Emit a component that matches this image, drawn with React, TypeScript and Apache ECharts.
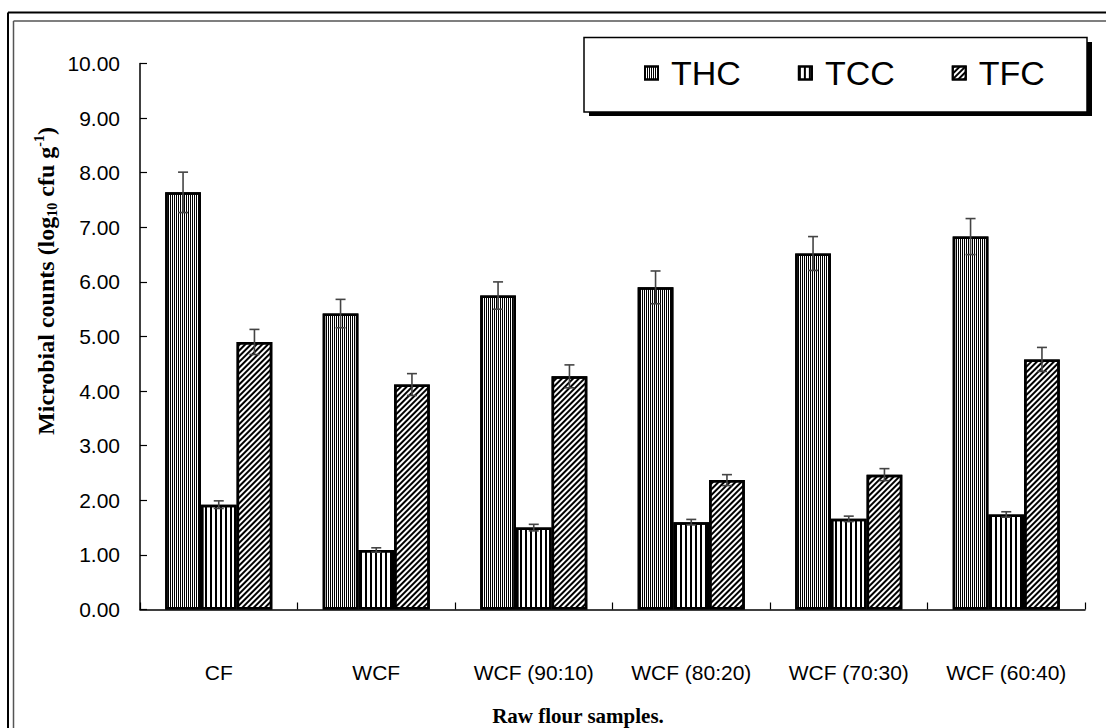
import React, { useEffect, useRef } from "react";
import * as echarts from "echarts";

// Raw flour samples on the category axis
const categories = ["CF", "WCF", "WCF (90:10)", "WCF (80:20)", "WCF (70:30)", "WCF (60:40)"];

// Microbial counts, log10 cfu/g, with standard deviations
const thc = [7.64, 5.42, 5.75, 5.9, 6.52, 6.83];
const thcErr = [0.37, 0.26, 0.25, 0.3, 0.31, 0.33];
const tcc = [1.92, 1.09, 1.5, 1.6, 1.66, 1.74];
const tccErr = [0.07, 0.04, 0.06, 0.05, 0.05, 0.05];
const tfc = [4.9, 4.12, 4.27, 2.37, 2.47, 4.58];
const tfcErr = [0.23, 0.2, 0.21, 0.1, 0.11, 0.22];

const seriesNames = ["THC", "TCC", "TFC"];
const yTicks = [0, 1, 2, 3, 4, 5, 6, 7, 8, 9, 10];

const CATEGORY_GAP = 0.32;
const SANS = "'Liberation Sans', Arial, sans-serif";
const SERIF = "'Liberation Serif', 'Times New Roman', serif";

const decals = [
  // dense fine vertical lines
  { symbol: "rect", symbolSize: 1, color: "#000", dashArrayX: [1, 1], dashArrayY: [4, 0] },
  // wider vertical stripes
  { symbol: "rect", symbolSize: 1, color: "#000", dashArrayX: [2, 3], dashArrayY: [4, 0] },
  // diagonal hatching
  { symbol: "rect", symbolSize: 1, color: "#000", dashArrayX: [2, 2], dashArrayY: [4, 0], rotation: Math.PI / 4 },
];

export default function App() {
  const ref = useRef<HTMLDivElement>(null);

  useEffect(() => {
    const chart = echarts.init(ref.current!, null, { renderer: "svg" });

    const barSeries = (name: string, values: number[], idx: number) => ({
      type: "bar",
      name,
      data: values,
      barGap: "0%",
      barCategoryGap: `${CATEGORY_GAP * 100}%`,
      z: 2,
      itemStyle: {
        color: "#fff",
        borderColor: "#000",
        borderWidth: 2.5,
        decal: decals[idx],
      },
    });

    const errorSeries = (name: string, values: number[], errs: number[], idx: number) => ({
      type: "custom",
      name: name + " SD",
      silent: true,
      z: 5,
      data: values.map((v, i) => [i, v, errs[i]]),
      encode: { x: 0, y: 1 },
      renderItem: (_params: any, api: any) => {
        const i = api.value(0);
        const v = api.value(1);
        const e = api.value(2);
        const band = api.size([1, 0])[0];
        const bw = (band * (1 - CATEGORY_GAP)) / 3;
        const off = (idx - 1) * bw;
        const hi = api.coord([i, v + e]);
        const lo = api.coord([i, v - e]);
        const x = hi[0] + off;
        const cap = 5;
        const style = { stroke: "#444", lineWidth: 1.6 };
        return {
          type: "group",
          children: [
            { type: "line", shape: { x1: x, y1: hi[1], x2: x, y2: lo[1] }, style },
            { type: "line", shape: { x1: x - cap, y1: hi[1], x2: x + cap, y2: hi[1] }, style },
            { type: "line", shape: { x1: x - cap, y1: lo[1], x2: x + cap, y2: lo[1] }, style },
          ],
        };
      },
    });

    chart.setOption({
      animation: false,
      backgroundColor: "#fff",
      grid: { left: 140, right: 21, top: 63.5, bottom: 118.5, containLabel: false },
      legend: {
        data: seriesNames,
        left: 644,
        top: 56,
        padding: 0,
        icon: "rect",
        itemWidth: 13,
        itemHeight: 13,
        itemGap: 57,
        selectedMode: false,
        textStyle: { fontFamily: SANS, fontSize: 34, color: "#000", padding: [0, 0, 0, 8] },
      },
      xAxis: {
        type: "category",
        data: categories,
        axisLine: { lineStyle: { color: "#000", width: 1.5 } },
        axisTick: { show: true, inside: true, length: 7, lineStyle: { color: "#000", width: 1.2 } },
        axisLabel: { fontFamily: SANS, fontSize: 21, color: "#000", margin: 52 },
        splitLine: { show: false },
      },
      yAxis: {
        type: "value",
        min: yTicks[0],
        max: yTicks[yTicks.length - 1],
        interval: 1,
        axisLine: { show: true, lineStyle: { color: "#000", width: 1.5 } },
        axisTick: { show: true, inside: true, length: 7, lineStyle: { color: "#000", width: 1.2 } },
        axisLabel: {
          fontFamily: SANS,
          fontSize: 21,
          color: "#000",
          margin: 20,
          formatter: (v: number) => v.toFixed(2),
        },
        splitLine: { show: false },
      },
      graphic: [
        // double frame
        { type: "line", z: 0, shape: { x1: 8, y1: 12.5, x2: 1106, y2: 12.5 }, style: { stroke: "#000", lineWidth: 2 } },
        { type: "line", z: 0, shape: { x1: 8, y1: 12.5, x2: 8, y2: 728 }, style: { stroke: "#000", lineWidth: 2 } },
        { type: "line", z: 0, shape: { x1: 13.5, y1: 21, x2: 1106, y2: 21 }, style: { stroke: "#555", lineWidth: 1.5 } },
        { type: "line", z: 0, shape: { x1: 13.5, y1: 21, x2: 13.5, y2: 728 }, style: { stroke: "#555", lineWidth: 1.5 } },
        // legend box with drop shadow
        { type: "rect", z: 0, shape: { x: 589, y: 42, width: 503, height: 74 }, style: { fill: "#000" } },
        { type: "rect", z: 0, shape: { x: 584, y: 37.5, width: 503, height: 74.5 }, style: { fill: "#fff", stroke: "#000", lineWidth: 1.5 } },
        // axis titles
        {
          type: "text",
          x: 46,
          y: 281,
          rotation: Math.PI / 2,
          style: {
            text: "Microbial counts (log{sub|10} cfu g{sup|-1})",
            font: `bold 24px ${SERIF}`,
            fill: "#000",
            align: "center",
            verticalAlign: "middle",
            rich: {
              sub: { font: `bold 14px ${SERIF}`, fill: "#000", verticalAlign: "bottom", lineHeight: 27 },
              sup: { font: `bold 14px ${SERIF}`, fill: "#000", verticalAlign: "top", lineHeight: 27 },
            },
          },
        },
        {
          type: "text",
          x: 578,
          y: 716,
          style: {
            text: "Raw flour samples.",
            font: `bold 21px ${SERIF}`,
            fill: "#000",
            align: "center",
            verticalAlign: "middle",
          },
        },
      ],
      series: [
        barSeries("THC", thc, 0),
        barSeries("TCC", tcc, 1),
        barSeries("TFC", tfc, 2),
        errorSeries("THC", thc, thcErr, 0),
        errorSeries("TCC", tcc, tccErr, 1),
        errorSeries("TFC", tfc, tfcErr, 2),
      ],
    });

    return () => chart.dispose();
  }, []);

  return <div ref={ref} style={{ position: "absolute", left: 0, top: 0, width: 1106, height: 728 }} />;
}
